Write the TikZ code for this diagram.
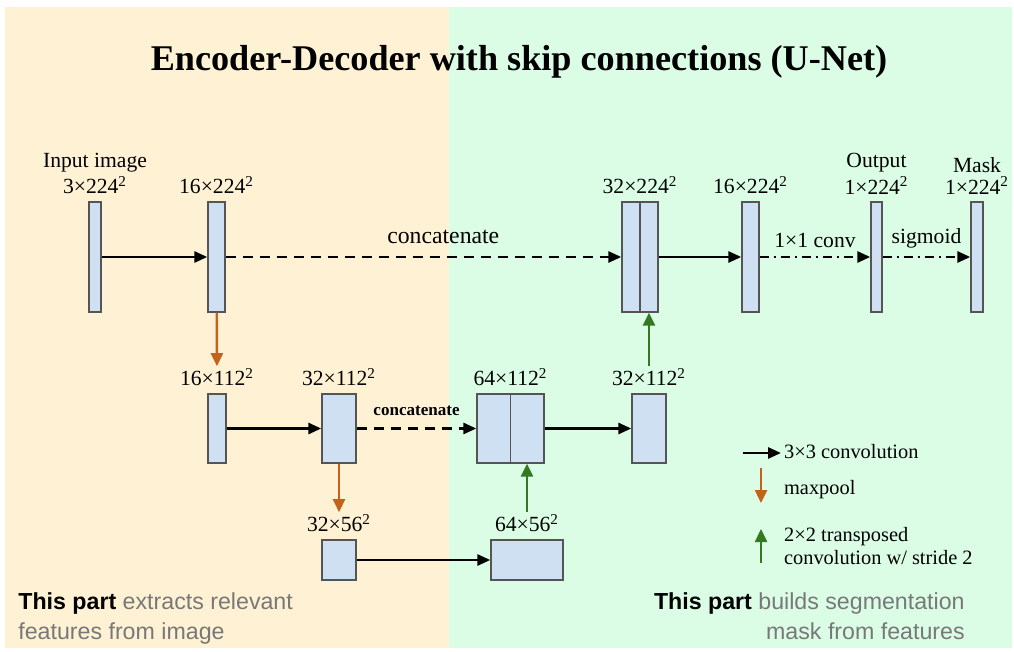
\documentclass[tikz,border=0pt]{standalone}
\usepackage{fontspec}
\setmainfont{Liberation Serif}
\newfontfamily\notefont{Liberation Sans}
\usetikzlibrary{arrows.meta,positioning}

\definecolor{encbg}{RGB}{255,242,212}
\definecolor{decbg}{RGB}{219,253,230}
\definecolor{layerfill}{RGB}{207,224,243}
\definecolor{layerline}{RGB}{85,85,85}
\definecolor{poolcol}{RGB}{196,98,28}
\definecolor{upcol}{RGB}{52,120,32}
\definecolor{notegray}{RGB}{120,120,120}

\begin{document}
\begin{tikzpicture}[x=0.02cm, y=-0.02cm,
    layer/.style={draw=layerline, fill=layerfill, line width=0.8pt, inner sep=0pt},
    tall/.style={layer, minimum height=2.2cm},
    mid/.style={layer, minimum height=1.38cm},
    low/.style={layer, minimum height=0.8cm},
    dim/.style={font=\fontsize{12.3}{13}\selectfont, inner sep=1pt},
    key/.style={font=\fontsize{11.6}{13.5}\selectfont, inner sep=1pt},
    conv/.style={-{Triangle[length=2.6mm,width=2.2mm]}, line width=1.6pt},
    skip/.style={conv, dash pattern=on 0.2cm off 0.14cm},
    head/.style={conv, dash pattern=on 0.18cm off 0.1cm on 0.04cm off 0.1cm},
    pool/.style={-{Triangle[length=2.6mm,width=2.4mm]}, line width=1.4pt, draw=poolcol},
    up/.style={-{Triangle[length=2.6mm,width=2.4mm]}, line width=1.4pt, draw=upcol},
    note/.style={font=\notefont\fontsize{13.2}{17}\selectfont, text=notegray, inner sep=0pt}]

\useasboundingbox (0,0) rectangle (1014,652);
\fill[encbg] (5,7) rectangle (449,648);
\fill[decbg] (449,7) rectangle (1012,648);

\node (title) at (519,62) {\fontsize{20.6}{22}\selectfont\bfseries Encoder-Decoder with skip connections (U-Net)};

% encoder
\node (in)  [tall, minimum width=0.24cm] at (95,257) {};
\node (e16) [tall, minimum width=0.34cm] at (216.5,257) {};
\node (e16b) [mid, minimum width=0.36cm] at (217,428.5) {};
\node (e32) [mid, minimum width=0.68cm] at (339,428.5) {};
\node (e32c) [low, minimum width=0.68cm] at (339,560) {};

% decoder
\node (cat1) [tall, minimum width=0.72cm] at (640,257) {};
\draw[layerline, line width=0.8pt] (cat1.north) -- (cat1.south);
\node (d16) [tall, minimum width=0.34cm] at (750.5,257) {};
\node (out) [tall, minimum width=0.22cm] at (876.5,257) {};
\node (mask) [tall, minimum width=0.24cm] at (977,257) {};
\node (cat2) [mid, minimum width=1.34cm] at (510.5,428.5) {};
\draw[layerline, line width=0.8pt] (cat2.north) -- (cat2.south);
\node (d32) [mid, minimum width=0.68cm] at (649,428.5) {};
\node (d64) [low, minimum width=1.44cm] at (527,560) {};

% sizes
\node (lin)   [dim, above=0.1cm of in]   {3×224\textsuperscript{2}};
\node (lin2)  [dim, above=0pt of lin]     {Input image};
\node (le16)  [dim, above=0.1cm of e16]  {16×224\textsuperscript{2}};
\node (le16b) [dim, above=0.1cm of e16b] {16×112\textsuperscript{2}};
\node (le32)  [dim, above=0.1cm of e32]  {32×112\textsuperscript{2}};
\node (le32c) [dim, above=0.1cm of e32c] {32×56\textsuperscript{2}};
\node (lcat1) [dim, above=0.1cm of cat1] {32×224\textsuperscript{2}};
\node (ld16)  [dim, above=0.1cm of d16]  {16×224\textsuperscript{2}};
\node (lout)  [dim, above=0.1cm of out]  {1×224\textsuperscript{2}};
\node (lout2) [dim, above=0pt of lout]    {Output};
\node (lmask) [dim, above=0.1cm of mask] {1×224\textsuperscript{2}};
\node (lmask2) [dim, above=0pt of lmask]  {Mask};
\node (lcat2) [dim, above=0.1cm of cat2] {64×112\textsuperscript{2}};
\node (ld32)  [dim, above=0.1cm of d32]  {32×112\textsuperscript{2}};
\node (ld64)  [dim, above=0.1cm of d64]  {64×56\textsuperscript{2}};

% connections
\draw[conv] (in) -- (e16);
\draw[skip] (e16) -- (cat1) node[pos=0.55, above=0.2cm, dim, font=\fontsize{13.5}{14}\selectfont] {concatenate};
\draw[conv] (cat1) -- (d16);
\draw[head] (d16) -- (out) node[midway, above=0.12cm, dim] {1×1 conv};
\draw[head] (out) -- (mask) node[midway, above=0.12cm, dim] {sigmoid};
\draw[conv] (e16b) -- (e32);
\draw[skip] (e32) -- (cat2) node[midway, above=0.2cm, dim, font=\fontsize{9.7}{11}\selectfont\bfseries] {concatenate};
\draw[conv] (cat2) -- (d32);
\draw[conv] (e32c) -- (d64);
\draw[pool] (e16) -- (le16b);
\draw[pool] (e32) -- (le32c);
\draw[up] (ld64.north) -- (ld64.north |- cat2.south);
\draw[up] (ld32.north) -- (ld32.north |- cat1.south);

% legend
\coordinate (k1a) at (743,453);
\coordinate (k1b) at (781,453);
\coordinate (k2a) at (761,468);
\coordinate (k2b) at (761,503);
\coordinate (k3a) at (761,563);
\coordinate (k3b) at (761,529);
\draw[conv] (k1a) -- (k1b);
\draw[pool] (k2a) -- (k2b);
\draw[up] (k3a) -- (k3b);
\node (key1) [key, anchor=west] at (782,452) {3×3 convolution};
\node (key2) [key, anchor=west] at (782,490) {maxpool};
\node (key3) [key, anchor=west, align=left] at (782,546) {2×2 transposed\\convolution w/ stride 2};

% notes
\node (encnote) [note, anchor=north west, align=left] at (18,592)
  {{\color{black}\bfseries This part} extracts relevant\\features from image};
\node (decnote) [note, anchor=north east, align=right] at (965,592)
  {{\color{black}\bfseries This part} builds segmentation\\mask from features};
\end{tikzpicture}
\end{document}
